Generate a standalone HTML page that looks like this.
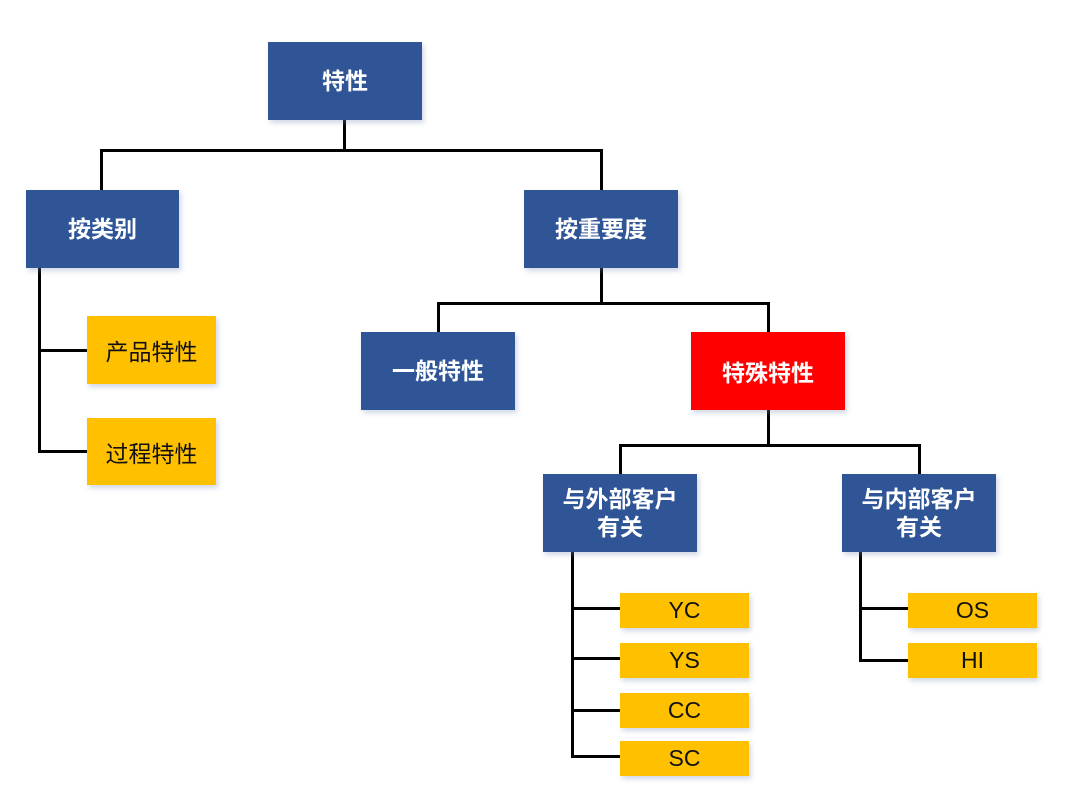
<!DOCTYPE html>
<html><head><meta charset="utf-8"><style>
body{margin:0;background:#fff;width:1080px;height:799px;position:relative;overflow:hidden;font-family:"Liberation Sans","Noto Sans CJK SC",sans-serif}
.b{position:absolute;display:flex;align-items:center;justify-content:center;text-align:center;box-shadow:2px 3px 5px rgba(120,140,180,.35)}
.n{background:#2F5597;color:#fff;font-weight:bold;font-size:23px;line-height:28px}
.r{background:#FF0000;color:#fff;font-weight:bold;font-size:23px}
.y{background:#FFC000;color:#111;font-size:23px}
.l{position:absolute;background:#000}
</style></head><body>
<div class="l" style="left:343px;top:120px;width:3px;height:32px"></div>
<div class="l" style="left:100px;top:149px;width:503px;height:3px"></div>
<div class="l" style="left:100px;top:149px;width:3px;height:42px"></div>
<div class="l" style="left:600px;top:149px;width:3px;height:42px"></div>
<div class="l" style="left:38px;top:268px;width:3px;height:184px"></div>
<div class="l" style="left:38px;top:349px;width:50px;height:3px"></div>
<div class="l" style="left:38px;top:450px;width:50px;height:3px"></div>
<div class="l" style="left:600px;top:268px;width:3px;height:36px"></div>
<div class="l" style="left:437px;top:302px;width:333px;height:3px"></div>
<div class="l" style="left:437px;top:302px;width:3px;height:31px"></div>
<div class="l" style="left:767px;top:302px;width:3px;height:31px"></div>
<div class="l" style="left:767px;top:410px;width:3px;height:36px"></div>
<div class="l" style="left:619px;top:444px;width:302px;height:3px"></div>
<div class="l" style="left:619px;top:444px;width:3px;height:31px"></div>
<div class="l" style="left:918px;top:444px;width:3px;height:31px"></div>
<div class="l" style="left:571px;top:552px;width:3px;height:206px"></div>
<div class="l" style="left:571px;top:607px;width:50px;height:3px"></div>
<div class="l" style="left:571px;top:657px;width:50px;height:3px"></div>
<div class="l" style="left:571px;top:709px;width:50px;height:3px"></div>
<div class="l" style="left:571px;top:755px;width:50px;height:3px"></div>
<div class="l" style="left:859px;top:552px;width:3px;height:110px"></div>
<div class="l" style="left:859px;top:607px;width:50px;height:3px"></div>
<div class="l" style="left:859px;top:659px;width:50px;height:3px"></div>

<div class="b n" style="left:268px;top:42px;width:154px;height:78px">特性</div>
<div class="b n" style="left:26px;top:190px;width:153px;height:78px">按类别</div>
<div class="b n" style="left:524px;top:190px;width:154px;height:78px">按重要度</div>
<div class="b y" style="left:87px;top:316px;width:129px;height:68px">产品特性</div>
<div class="b y" style="left:87px;top:418px;width:129px;height:67px">过程特性</div>
<div class="b n" style="left:361px;top:332px;width:154px;height:78px">一般特性</div>
<div class="b r" style="left:691px;top:332px;width:154px;height:78px">特殊特性</div>
<div class="b n" style="left:543px;top:474px;width:154px;height:78px">与外部客户<br>有关</div>
<div class="b n" style="left:842px;top:474px;width:154px;height:78px">与内部客户<br>有关</div>
<div class="b y" style="left:620px;top:593px;width:129px;height:35px">YC</div>
<div class="b y" style="left:620px;top:643px;width:129px;height:35px">YS</div>
<div class="b y" style="left:620px;top:693px;width:129px;height:35px">CC</div>
<div class="b y" style="left:620px;top:741px;width:129px;height:35px">SC</div>
<div class="b y" style="left:908px;top:593px;width:129px;height:35px">OS</div>
<div class="b y" style="left:908px;top:643px;width:129px;height:35px">HI</div>
</body></html>
